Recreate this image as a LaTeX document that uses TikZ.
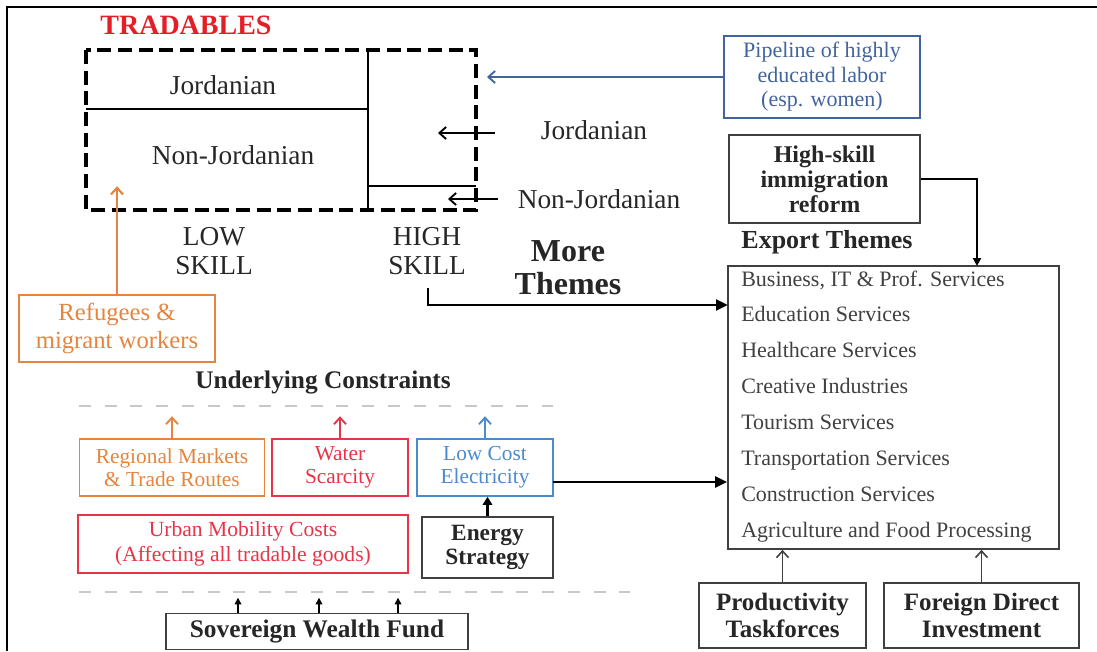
\documentclass[tikz,border=0pt]{standalone}
\usepackage{fontspec}
\setmainfont{Liberation Serif}
\usetikzlibrary{arrows.meta}

\definecolor{tradred}{RGB}{228,30,38}
\definecolor{orangeC}{RGB}{228,132,62}
\definecolor{redC}{RGB}{232,52,72}
\definecolor{blueC}{RGB}{74,138,205}
\definecolor{pipeC}{RGB}{66,100,158}
\definecolor{dashgray}{RGB}{200,200,200}

\tikzset{
  lbl/.style={text=black!85, font=\fontsize{20.5}{22}\selectfont},
  headlbl/.style={text=black!85, font=\bfseries\fontsize{19}{22}\selectfont},
  box/.style={draw=black!75, line width=1.2pt, align=center, inner sep=0pt, text=black!85},
  colbox/.style={draw=#1, text=#1, line width=1.2pt, align=center, inner sep=0pt,
    font=\fontsize{16}{17.25}\selectfont},
  themeitem/.style={anchor=west, inner sep=0pt, text height=11pt, text depth=3.5pt,
    text=black!75, font=\fontsize{16.5}{18}\selectfont},
  gline/.style={draw=dashgray, line width=2pt, dash pattern=on 9pt off 10.3pt},
  thickarr/.style={line width=2.2pt, -{Triangle[length=9pt,width=8pt]}},
  smallarr/.style={line width=1.1pt, -{Triangle[length=5pt,width=5pt]}},
  openarr/.style={line width=1.4pt, -{Straight Barb[length=5pt,width=9pt]}},
}

\begin{document}
\begin{tikzpicture}[x=0.75pt,y=-0.75pt]
  \useasboundingbox (0,0) rectangle (1097,651);
  % outer frame
  \draw[line width=1.5pt] (7,651) -- (7,7) -- (1097,7);

  % tradables block
  \node[font=\bfseries\fontsize{21}{24}\selectfont, text=tradred] (tradtitle) at (186,25) {TRADABLES};
  \draw[line width=1.5pt] (86,109) -- (368,109);
  \draw[line width=1.5pt] (368,50) -- (368,210);
  \draw[line width=1.5pt] (368,186) -- (476,186);
  \draw[line width=3pt, dash pattern=on 10.5pt off 5pt] (86,50) rectangle (476,210);
  \node[lbl] (jleft) at (223,85) {Jordanian};
  \node[lbl] (njleft) at (233,155) {Non-Jordanian};
  \node[lbl, align=center, font=\fontsize{20.5}{22}\selectfont] (low) at (214,251) {LOW\\SKILL};
  \node[lbl, align=center, font=\fontsize{20.5}{22}\selectfont] (high) at (427,251) {HIGH\\SKILL};
  \node[lbl] (jright) at (594,130) {Jordanian};
  \node[lbl] (njright) at (599,199) {Non-Jordanian};
  \coordinate (jtail) at (495,133);
  \coordinate (jtip) at (438,133);
  \coordinate (njtail) at (498,199);
  \coordinate (njtip) at (448,199);
  \draw[openarr] (jtail) -- (jtip);
  \draw[openarr] (njtail) -- (njtip);
  \node[align=center, text=black!85, font=\bfseries\fontsize{24}{25}\selectfont] (more) at (568,268) {More\\Themes};

  % right column
  \node[box, draw=pipeC, text=pipeC, font=\fontsize{16.5}{18.4}\selectfont,
    minimum width=147pt, minimum height=61.5pt] (pipe) at (822,77)
    {Pipeline of highly\\educated labor\\(esp. women)};
  \coordinate (pipetip) at (487,77);
  \draw[openarr, draw=pipeC] (pipe.west) -- (pipetip);

  \node[box, font=\bfseries\fontsize{18}{18.75}\selectfont,
    minimum width=143.25pt, minimum height=66pt] (skill) at (824.5,179)
    {High-skill\\immigration\\reform};
  \node[headlbl, font=\bfseries\fontsize{19.5}{22}\selectfont] (exptitle) at (827,242) {Export Themes};
  \node[box, minimum width=248.25pt, minimum height=212.25pt] (export) at (893.5,407.5) {};
  \foreach \t [count=\i] in {{Business, IT \& Prof. Services}, Education Services,
      Healthcare Services, Creative Industries, Tourism Services,
      Transportation Services, Construction Services, Agriculture and Food Processing}
    \node[themeitem] (theme\i) at (741,{245.14+35.86*\i}) {\t};
  \coordinate (skillin) at (977,266);
  \draw[line width=1.6pt, -{Triangle[length=6pt,width=6pt]}] (skill.east) -| (skillin);
  \coordinate (mtstart) at (428,288);
  \coordinate (mtend) at (728,305);
  \draw[thickarr] (mtstart) |- (mtend);

  \node[box, font=\bfseries\fontsize{18.75}{20}\selectfont,
    minimum width=125.25pt, minimum height=48.75pt] (prod) at (782.5,615.5)
    {Productivity\\Taskforces};
  \node[box, font=\bfseries\fontsize{18.75}{20}\selectfont,
    minimum width=146.25pt, minimum height=48.75pt] (fdi) at (981.5,615.5)
    {Foreign Direct\\Investment};
  \draw[openarr, line width=1.2pt, draw=black!75] (prod.north) -- (prod.north |- export.south);
  \draw[openarr, line width=1.2pt, draw=black!75] (fdi.north) -- (fdi.north |- export.south);

  % left column
  \node[colbox=orangeC, font=\fontsize{18.5}{21}\selectfont,
    minimum width=147pt, minimum height=50.25pt] (refugees) at (117,328.5)
    {Refugees \&\\migrant workers};
  \draw[openarr, draw=orangeC, line width=1.6pt] (refugees.north) -- ++(0,-108);

  % underlying constraints
  \node[headlbl] (ucons) at (323,382) {Underlying Constraints};
  \draw[gline] (79,406) -- (553,406);
  \draw[gline] (79,592) -- (630,592);
  \node[colbox=orangeC, minimum width=138.75pt, minimum height=42.75pt] (regional)
    at (172,467.5) {Regional Markets\\\& Trade Routes};
  \node[colbox=redC, minimum width=102pt, minimum height=42.75pt] (water)
    at (340,467.5) {Water\\Scarcity};
  \node[colbox=blueC, minimum width=102pt, minimum height=42.75pt] (lowcost)
    at (485,467.5) {Low Cost\\Electricity};
  \node[colbox=redC, font=\fontsize{16.2}{18.75}\selectfont,
    minimum width=247.5pt, minimum height=43.5pt] (urban)
    at (243,544) {Urban Mobility Costs\\(Affecting all tradable goods)};
  \node[box, font=\bfseries\fontsize{17.5}{18}\selectfont,
    minimum width=98.25pt, minimum height=45.75pt] (energy) at (487.5,547.5)
    {Energy\\Strategy};
  \draw[openarr, draw=orangeC] (regional.north) -- ++(0,-22);
  \draw[openarr, draw=redC] (water.north) -- ++(0,-22);
  \draw[openarr, draw=blueC] (lowcost.north) -- ++(0,-22);
  \draw[line width=2pt, -{Triangle[length=6pt,width=7pt]}] (energy.north) -- (energy.north |- lowcost.south);
  \coordinate (lcout) at (553,482);
  \draw[thickarr] (lcout) -- (export.west |- lcout);

  \node[box, font=\bfseries\fontsize{19}{20}\selectfont,
    minimum width=226.5pt, minimum height=27pt] (swf) at (317,631.5)
    {Sovereign Wealth Fund};
  \foreach \xx in {238,319,398}
    \draw[smallarr] (swf.north -| \xx,0) -- ++(0,-15);
\end{tikzpicture}
\end{document}
